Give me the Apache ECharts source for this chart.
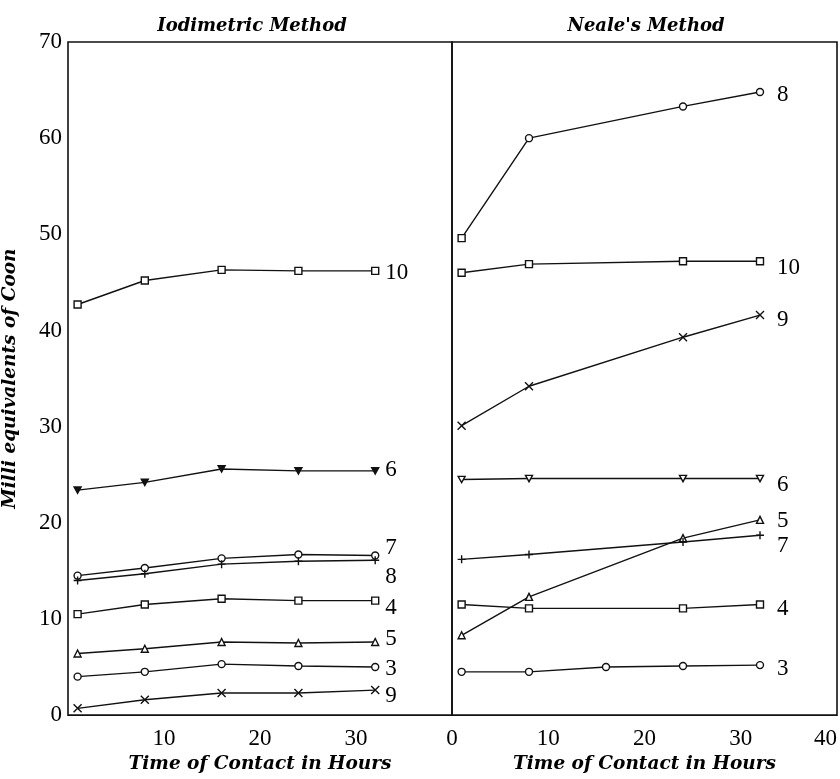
<!DOCTYPE html>
<html>
<head>
<meta charset="utf-8">
<script src="https://cdn.jsdelivr.net/npm/echarts@6/dist/echarts.min.js"></script>
<style>
html, body { margin: 0; background: #fff; }
#chart { width: 840px; height: 779px; }
</style>
</head>
<body>
<div id="chart"></div>
<script>
// hours of contact
const iodHours = [1, 8, 16, 24, 32];
const nealeHours = [1, 8, 24, 32];
const nealeHours3 = [1, 8, 16, 24, 32];

// Iodimetric method (left panel)
const iod10 = [42.7, 45.2, 46.3, 46.2, 46.2];
const iod6 = [23.4, 24.2, 25.6, 25.4, 25.4];
const iod7 = [14.5, 15.3, 16.3, 16.7, 16.6];
const iod8 = [14.0, 14.7, 15.7, 16.0, 16.1];
const iod4 = [10.5, 11.5, 12.1, 11.9, 11.9];
const iod5 = [6.4, 6.9, 7.6, 7.5, 7.6];
const iod3 = [4.0, 4.5, 5.3, 5.1, 5.0];
const iod9 = [0.7, 1.6, 2.3, 2.3, 2.6];

// Neale's method (right panel)
const neale8 = [49.6, 60.0, 63.3, 64.8];
const neale10 = [46.0, 46.9, 47.2, 47.2];
const neale9 = [30.1, 34.2, 39.3, 41.6];
const neale6 = [24.5, 24.6, 24.6, 24.6];
const neale5 = [8.3, 12.3, 18.4, 20.3];
const neale7 = [16.2, 16.7, 18.0, 18.7];
const neale4 = [11.5, 11.1, 11.1, 11.5];
const neale3 = [4.5, 4.5, 5.0, 5.1, 5.2];

const xTicks = [0, 10, 20, 30, 40];
const yTicks = [0, 10, 20, 30, 40, 50, 60, 70];

const X_MARK = 'path://M0,0L10,10M10,0L0,10';
const PLUS_MARK = 'path://M5,0L5,10M0,5L10,5';
const DOWN_TRI = 'path://M0,0L10,0L5,9Z';
const SERIF = 'Liberation Serif';
const ITALIC = 'DejaVu Serif';

function curve(grid, name, hours, values, symbol, opts) {
  opts = opts || {};
  const stroke = symbol === X_MARK || symbol === PLUS_MARK;
  return {
    type: 'line',
    name: name,
    xAxisIndex: grid,
    yAxisIndex: grid,
    data: hours.map((h, i) => [h, values[i]]),
    symbol: symbol,
    symbolSize: stroke ? 8 : 7,
    symbolKeepAspect: true,
    showAllSymbol: true,
    lineStyle: { color: '#111', width: 1.4 },
    itemStyle: {
      color: opts.filled ? '#111' : '#fff',
      borderColor: '#111',
      borderWidth: 1.4
    },
    emphasis: { disabled: true },
    endLabel: {
      show: true,
      formatter: name,
      distance: grid === 0 ? 10 : 17,
      offset: [0, (opts.dy || 0) + 4],
      fontFamily: SERIF,
      fontSize: 23,
      color: '#000'
    },
    animation: false
  };
}

const series = [
  curve(0, '10', iodHours, iod10, 'rect', { dy: -2 }),
  curve(0, '6', iodHours, iod6, DOWN_TRI, { filled: true, dy: -5 }),
  curve(0, '7', iodHours, iod7, 'circle', { dy: -12 }),
  curve(0, '8', iodHours, iod8, PLUS_MARK, { dy: 13 }),
  curve(0, '4', iodHours, iod4, 'rect', { dy: 3 }),
  curve(0, '5', iodHours, iod5, 'triangle', { dy: -7 }),
  curve(0, '3', iodHours, iod3, 'circle', { dy: -2 }),
  curve(0, '9', iodHours, iod9, X_MARK, { dy: 2 }),

  Object.assign(curve(1, '8', nealeHours, neale8, 'circle', { dy: -1 }), {
    symbol: (v, p) => (p.dataIndex === 0 ? 'rect' : 'circle')
  }),
  curve(1, '10', nealeHours, neale10, 'rect', { dy: 3 }),
  curve(1, '9', nealeHours, neale9, X_MARK, { dy: 1 }),
  curve(1, '6', nealeHours, neale6, DOWN_TRI, { dy: 2 }),
  curve(1, '5', nealeHours, neale5, 'triangle', { dy: -3 }),
  curve(1, '7', nealeHours, neale7, PLUS_MARK, { dy: 7 }),
  curve(1, '4', nealeHours, neale4, 'rect', { dy: 0 }),
  curve(1, '3', nealeHours3, neale3, 'circle', { dy: 0 })
];

function xAxis(grid) {
  return {
    type: 'value',
    gridIndex: grid,
    min: xTicks[0],
    max: xTicks[xTicks.length - 1],
    interval: 10,
    name: 'Time of Contact in Hours',
    nameLocation: 'middle',
    nameGap: 38,
    nameTextStyle: { fontFamily: ITALIC, fontStyle: 'italic', fontWeight: 'bold', fontSize: 18.5, color: '#000' },
    axisLine: { show: false },
    axisTick: { show: false },
    splitLine: { show: false },
    axisLabel: {
      margin: 12,
      fontFamily: SERIF,
      fontSize: 23,
      color: '#000',
      showMinLabel: grid === 1,
      showMaxLabel: grid === 1,
      alignMaxLabel: 'right'
    }
  };
}

function yAxis(grid) {
  return {
    type: 'value',
    gridIndex: grid,
    min: yTicks[0],
    max: yTicks[yTicks.length - 1],
    interval: 10,
    name: grid === 0 ? 'Milli equivalents of Coon' : '',
    nameLocation: 'middle',
    nameGap: 48,
    nameTextStyle: { fontFamily: ITALIC, fontStyle: 'italic', fontWeight: 'bold', fontSize: 18.5, color: '#000' },
    axisLine: { show: false },
    axisTick: { show: false },
    splitLine: { show: false },
    axisLabel: {
      show: grid === 0,
      margin: 6,
      fontFamily: SERIF,
      fontSize: 23,
      color: '#000'
    }
  };
}

const titleStyle = { fontFamily: ITALIC, fontStyle: 'italic', fontWeight: 'bold', fontSize: 18, color: '#000' };

const chart = echarts.init(document.getElementById('chart'));
chart.setOption({
  backgroundColor: '#fff',
  animation: false,
  title: [
    { text: 'Iodimetric Method', left: 247, top: 12, textAlign: 'center', textStyle: titleStyle },
    { text: "Neale's Method", left: 641, top: 12, textAlign: 'center', textStyle: titleStyle }
  ],
  grid: [
    { left: 68, top: 42, width: 384, height: 680, show: true, borderColor: '#111', borderWidth: 1.6, backgroundColor: 'transparent' },
    { left: 452, top: 42, width: 385, height: 680, show: true, borderColor: '#111', borderWidth: 1.6, backgroundColor: 'transparent' }
  ],
  xAxis: [xAxis(0), xAxis(1)],
  yAxis: [yAxis(0), yAxis(1)],
  series: series
});
</script>
</body>
</html>
